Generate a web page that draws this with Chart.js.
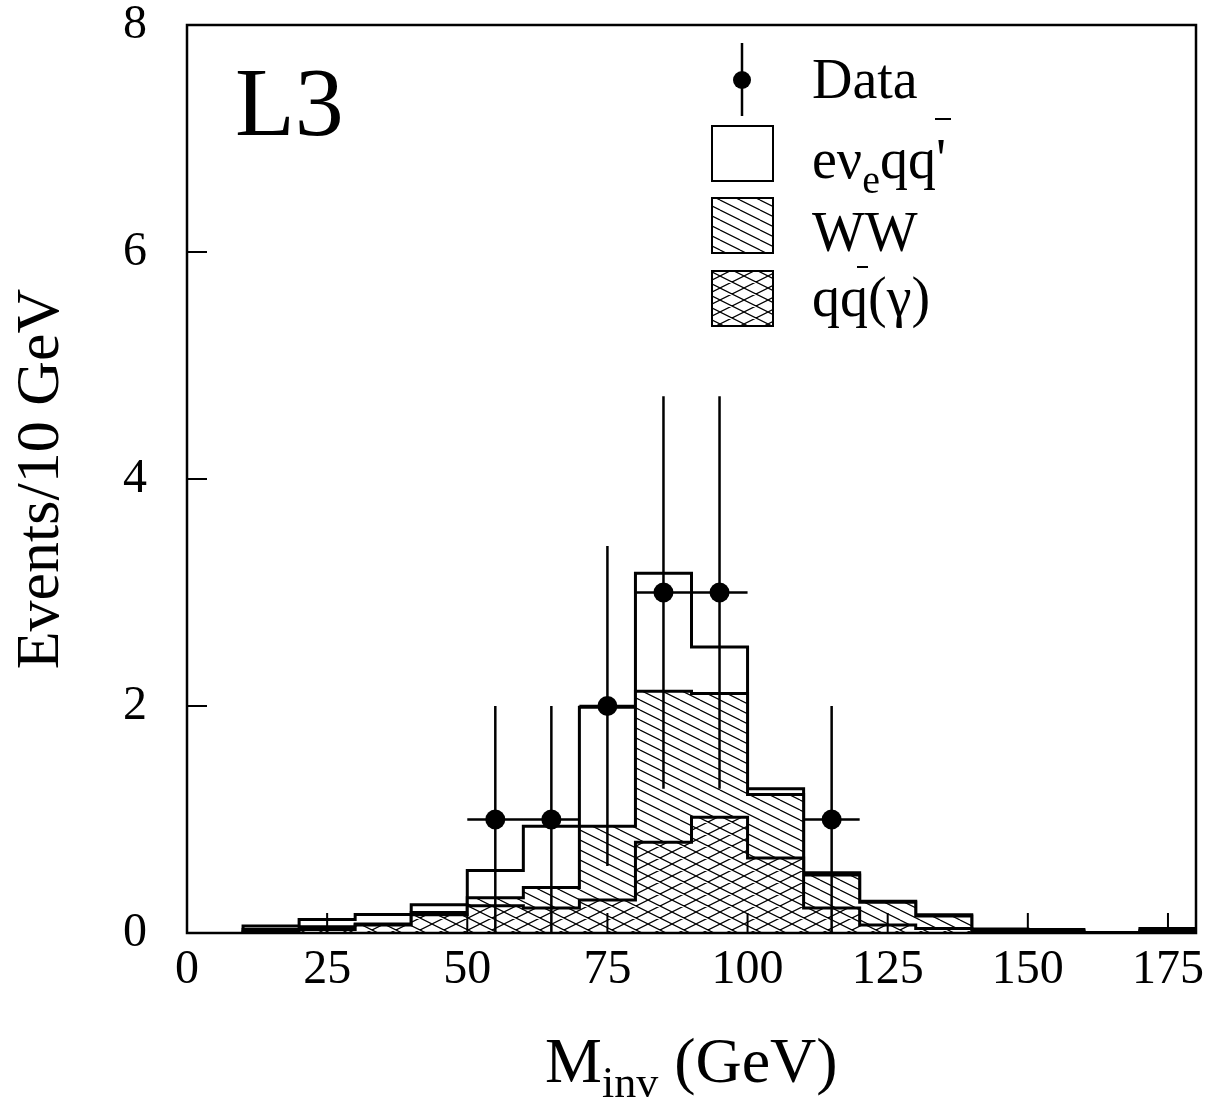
<!DOCTYPE html>
<html>
<head>
<meta charset="utf-8">
<script src="https://cdn.jsdelivr.net/npm/chart.js@4"></script>
<style>
html, body { margin: 0; padding: 0; background: #fff; }
#wrap { width: 1211px; height: 1104px; position: relative; }
</style>
</head>
<body>
<div id="wrap"><canvas id="mass"></canvas></div>
<script>
// 10 GeV bins from 10 to 180 GeV
const binEdges = [10,20,30,40,50,60,70,80,90,100,110,120,130,140,150,160,170,180];
// per-process contributions, events / 10 GeV (stacked: qq(gamma), WW, e nu_e q q')
const qqgBins  = [0.01,0.03,0.07,0.16,0.24,0.22,0.29,0.80,1.02,0.66,0.22,0.07,0.04,0.01,0.01,0,0.01];
const wwBins   = [0.02,0.025,0.01,0.02,0.07,0.18,0.65,1.33,1.09,0.56,0.29,0.20,0.11,0.015,0.01,0,0.015];
const evqqBins = [0.032,0.065,0.083,0.07,0.24,0.54,1.05,1.04,0.41,0.05,0.02,0.01,0.01,0.01,0.01,0.005,0.015];
// data
const dataMass    = [55,65,75,85,95,115];
const dataEvents  = [1,1,2,3,3,1];
const dataErrUp   = [1,1,1.41,1.73,1.73,1];
const dataErrDown = [1,1,1.41,1.73,1.73,1];
// axes
const xTicks = [0,25,50,75,100,125,150,175];
const yTicks = [0,2,4,6,8];

const SERIF = '"Liberation Serif", "Times New Roman", serif';
const canvas = document.getElementById('mass');
const mainCtx = canvas.getContext('2d');

// hatch patterns: lines of slope 1/2, d = vertical spacing
function hatch(d, cross) {
    const c = document.createElement('canvas');
    c.width = 2 * d; c.height = d;
    const g = c.getContext('2d');
    g.fillStyle = '#fff';
    g.fillRect(0, 0, 2 * d, d);
    g.strokeStyle = '#000';
    g.lineWidth = 1.2;
    g.beginPath();
    for (let k = -1; k <= 1; k++) {
        g.moveTo(0, k * d); g.lineTo(2 * d, k * d + d);
        if (cross) { g.moveTo(0, k * d + d); g.lineTo(2 * d, k * d); }
    }
    g.stroke();
    return mainCtx.createPattern(c, 'repeat');
}
const wwPattern = hatch(10, false);
const qqPattern = hatch(12, true);

// stacked levels
const qqTop = qqgBins.slice();
const wwTop = qqTop.map((v, i) => v + wwBins[i]);
const totTop = wwTop.map((v, i) => v + evqqBins[i]);

// histogram as stepped line points
function steps(vals) {
    const pts = [{x: binEdges[0], y: 0}];
    vals.forEach((v, i) => pts.push({x: binEdges[i], y: v}));
    pts.push({x: binEdges[binEdges.length - 1], y: vals[vals.length - 1]});
    return pts;
}

function textRun(ctx, x, y, parts) {
    parts.forEach(([txt, size, dy]) => {
        ctx.font = size + 'px ' + SERIF;
        ctx.fillText(txt, x, y + dy);
        x += ctx.measureText(txt).width;
    });
    return x;
}

const decorations = {
    id: 'decorations',
    afterDatasetsDraw(chart) {
        const {ctx, chartArea: a, scales: {x, y}} = chart;
        const half = (binEdges[1] - binEdges[0]) / 2;
        ctx.save();
        ctx.strokeStyle = '#000';
        // error bars
        ctx.lineWidth = 2.5;
        ctx.beginPath();
        dataMass.forEach((m, i) => {
            const px = x.getPixelForValue(m);
            const py = y.getPixelForValue(dataEvents[i]);
            ctx.moveTo(px, y.getPixelForValue(dataEvents[i] + dataErrUp[i]));
            ctx.lineTo(px, y.getPixelForValue(dataEvents[i] - dataErrDown[i]));
            ctx.moveTo(x.getPixelForValue(m - half), py);
            ctx.lineTo(x.getPixelForValue(m + half), py);
        });
        ctx.stroke();
        // inward ticks
        ctx.lineWidth = 2;
        ctx.beginPath();
        x.ticks.forEach(t => {
            const px = x.getPixelForValue(t.value);
            ctx.moveTo(px, a.bottom); ctx.lineTo(px, a.bottom - 20);
        });
        y.ticks.forEach(t => {
            const py = y.getPixelForValue(t.value);
            ctx.moveTo(a.left, py); ctx.lineTo(a.left + 20, py);
        });
        ctx.stroke();
        // frame
        ctx.lineWidth = 2.5;
        ctx.strokeRect(a.left, a.top, a.right - a.left, a.bottom - a.top);
        ctx.restore();
    },
    afterDraw(chart) {
        const ctx = chart.ctx;
        ctx.save();
        ctx.fillStyle = '#000';
        ctx.strokeStyle = '#000';
        ctx.textBaseline = 'alphabetic';
        ctx.textAlign = 'left';

        // experiment label
        ctx.font = '98px ' + SERIF;
        ctx.fillText('L3', 235, 135);

        // x axis title
        textRun(ctx, 545, 1082, [['M', 64, 0], ['inv', 44, 15], [' (GeV)', 64, 0]]);

        // legend symbols
        ctx.lineWidth = 2.5;
        ctx.beginPath();
        ctx.moveTo(742, 43); ctx.lineTo(742, 116);
        ctx.stroke();
        ctx.beginPath();
        ctx.arc(742, 80, 9, 0, Math.PI * 2);
        ctx.fill();

        ctx.lineWidth = 2;
        [[126, '#fff'], [198, wwPattern], [271, qqPattern]].forEach(([top, fill]) => {
            ctx.fillStyle = fill;
            ctx.fillRect(712, top, 61, 55);
            ctx.strokeRect(712, top, 61, 55);
        });
        ctx.fillStyle = '#000';

        // legend texts
        textRun(ctx, 812, 98, [['Data', 56, 0]]);
        textRun(ctx, 812, 178, [['eν', 56, 0], ['e', 40, 15], ['qq', 56, 0], ["'", 56, 0]]);
        textRun(ctx, 812, 251, [['WW', 56, 0]]);
        textRun(ctx, 812, 316, [['qq(γ)', 56, 0]]);
        // anti-quark bars
        ctx.lineWidth = 2;
        ctx.beginPath();
        ctx.moveTo(935, 119); ctx.lineTo(951, 119);
        ctx.moveTo(857, 267); ctx.lineTo(868, 267);
        ctx.stroke();
        ctx.restore();
    }
};

new Chart(canvas, {
    type: 'line',
    data: {
        datasets: [
            {
                label: 'Data',
                data: dataMass.map((m, i) => ({x: m, y: dataEvents[i]})),
                showLine: false,
                pointRadius: 10,
                pointBackgroundColor: '#000',
                pointBorderWidth: 0,
                order: 0
            },
            {
                label: 'qq(γ)',
                data: steps(qqTop),
                stepped: true,
                borderColor: '#000',
                borderWidth: 3,
                pointRadius: 0,
                fill: 'origin',
                backgroundColor: qqPattern,
                order: 1
            },
            {
                label: 'WW',
                data: steps(wwTop),
                stepped: true,
                borderColor: '#000',
                borderWidth: 3,
                pointRadius: 0,
                fill: 'origin',
                backgroundColor: wwPattern,
                order: 2
            },
            {
                label: "eνeqq'",
                data: steps(totTop),
                stepped: true,
                borderColor: '#000',
                borderWidth: 3,
                pointRadius: 0,
                fill: 'origin',
                backgroundColor: '#fff',
                order: 3
            }
        ]
    },
    options: {
        responsive: true,
        maintainAspectRatio: false,
        animation: false,
        layout: {padding: {top: 25, right: 15, left: 0, bottom: 0}},
        plugins: {legend: {display: false}, tooltip: {enabled: false}},
        scales: {
            x: {
                type: 'linear',
                min: 0,
                max: 180,
                grid: {display: false, drawTicks: false},
                border: {display: false},
                afterBuildTicks: axis => { axis.ticks = xTicks.map(v => ({value: v})); },
                afterFit: axis => {
                    axis.height = 171;
                    axis.paddingLeft = 0;
                    axis.paddingRight = 0;
                },
                ticks: {
                    color: '#000',
                    padding: 13,
                    maxRotation: 0,
                    autoSkip: false,
                    font: {family: SERIF, size: 48, lineHeight: 1.0}
                }
            },
            y: {
                min: 0,
                max: 8,
                // tick marks are drawn inward by the plugin; the hidden tick length only spaces the labels
                grid: {display: false, drawTicks: true, tickLength: 40},
                border: {display: false},
                afterBuildTicks: axis => { axis.ticks = yTicks.map(v => ({value: v})); },
                afterFit: axis => {
                    axis.width = 187;
                    axis.paddingTop = 0;
                    axis.paddingBottom = 0;
                },
                ticks: {
                    color: '#000',
                    padding: 0,
                    font: {family: SERIF, size: 48, lineHeight: 1.0}
                },
                title: {
                    display: true,
                    text: 'Events/10 GeV',
                    color: '#000',
                    padding: {top: 5, bottom: 0},
                    font: {family: SERIF, size: 62}
                }
            }
        }
    },
    plugins: [decorations]
});
</script>
</body>
</html>
